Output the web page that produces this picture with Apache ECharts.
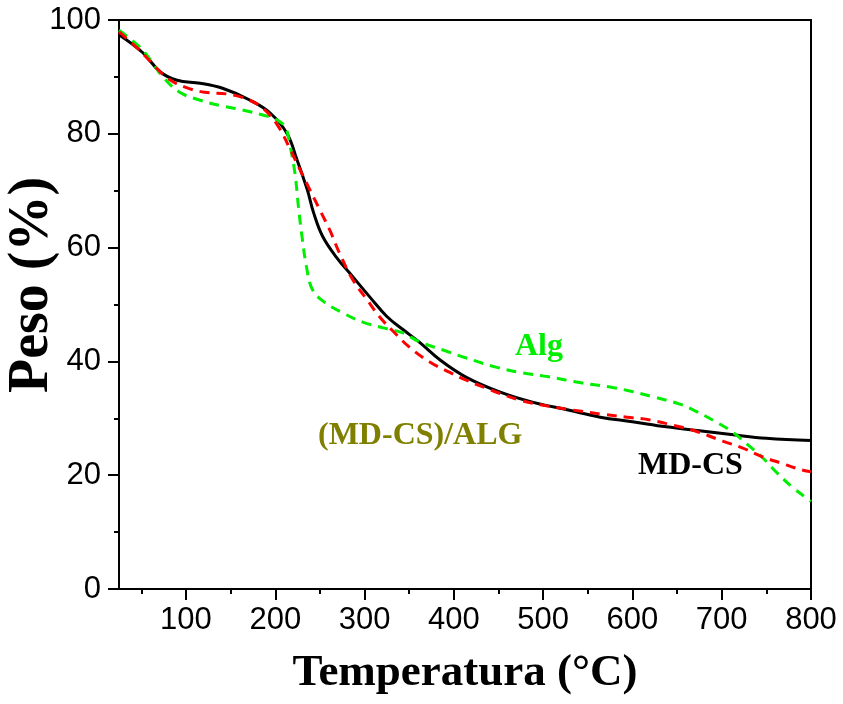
<!DOCTYPE html>
<html>
<head>
<meta charset="utf-8">
<script src="https://cdn.jsdelivr.net/npm/echarts@6/dist/echarts.min.js"></script>
<style>
  html, body { margin: 0; padding: 0; background: #fff; }
  #chart { width: 843px; height: 704px; }
</style>
</head>
<body>
<div id="chart"></div>
<script>
  // MD-CS (linea negra)
  var mdcsT = [25, 52, 71, 90, 116, 141, 172, 194, 213, 224, 236, 243, 253, 269, 284, 306, 325, 343, 362, 385, 414, 452, 489, 527, 564, 600, 638, 675, 713, 750, 800];
  var mdcsW = [97.4, 94.2, 90.9, 89.4, 88.9, 88.0, 85.9, 83.7, 80.1, 75.6, 70.1, 66.1, 62.0, 58.2, 55.4, 51.3, 47.9, 45.6, 43.3, 40.2, 37.2, 34.6, 32.8, 31.5, 30.2, 29.4, 28.5, 27.8, 27.1, 26.5, 26.1];
  // (MD-CS)/ALG (roja)
  var mixT = [25, 46, 62, 79, 99, 121, 146, 168, 186, 203, 216, 228, 239, 250, 261, 272, 287, 303, 317, 332, 351, 373, 395, 414, 436, 451, 474, 500, 527, 567, 594, 620, 645, 668, 701, 723, 746, 767, 788, 800];
  var mixW = [97.9, 95.0, 92.4, 89.8, 88.2, 87.3, 87.0, 86.1, 84.5, 81.4, 77.5, 73.6, 70.1, 66.6, 63.1, 59.0, 54.3, 50.8, 47.8, 45.3, 42.4, 39.9, 38.1, 36.7, 35.3, 34.4, 33.2, 32.3, 31.6, 30.7, 30.2, 29.7, 28.8, 27.9, 26.0, 24.8, 23.2, 22.1, 21.0, 20.6];
  // Alg (verde)
  var algT = [25, 48, 62, 74, 93, 116, 140, 163, 186, 200, 211, 216, 222, 226, 230, 235, 242, 256, 276, 298, 321, 343, 362, 388, 414, 447, 476, 506, 544, 575, 597, 625, 653, 673, 692, 712, 728, 745, 762, 779, 795, 800];
  var algW = [98.2, 95.3, 92.6, 90.0, 87.3, 85.9, 84.9, 84.2, 83.3, 82.6, 81.2, 78.3, 73.1, 67.1, 61.9, 56.6, 52.5, 50.3, 48.5, 46.9, 45.9, 45.0, 43.4, 42.0, 40.6, 39.0, 38.0, 37.3, 36.2, 35.5, 34.8, 33.7, 32.5, 31.1, 29.5, 27.6, 25.5, 23.2, 20.4, 17.9, 16.0, 15.4];

  var xMajor = [100, 200, 300, 400, 500, 600, 700, 800];
  var xMinor = [50, 150, 250, 350, 450, 550, 650, 750];

  function zip(a, b) {
    return a.map(function (v, i) { return [v, b[i]]; });
  }

  var chart = echarts.init(document.getElementById('chart'));
  var tickFont = { fontFamily: 'Liberation Sans', fontSize: 31, color: '#000' };
  var serifBold = '"Liberation Serif", "Times New Roman", serif';

  var option = {
    animation: false,
    grid: {
      left: 119, right: 32, top: 20, bottom: 115,
      show: true, borderColor: '#000', borderWidth: 2, backgroundColor: 'transparent'
    },
    xAxis: [{
      type: 'value', min: 25, max: 800,
      axisLine: { lineStyle: { color: '#000', width: 2 } },
      axisTick: { customValues: xMajor, length: 11, lineStyle: { color: '#000', width: 2 } },
      axisLabel: Object.assign({ customValues: xMajor, margin: 16 }, tickFont),
      splitLine: { show: false }
    }, {
      type: 'value', min: 25, max: 800, position: 'bottom',
      axisLine: { show: false },
      axisTick: { customValues: xMinor, length: 5, lineStyle: { color: '#000', width: 2 } },
      axisLabel: { show: false },
      splitLine: { show: false }
    }],
    yAxis: {
      type: 'value', min: 0, max: 100, interval: 20,
      axisLine: { show: true, lineStyle: { color: '#000', width: 2 } },
      axisTick: { show: true, length: 11, lineStyle: { color: '#000', width: 2 } },
      minorTick: { show: true, splitNumber: 2, length: 5, lineStyle: { color: '#000', width: 2 } },
      axisLabel: Object.assign({ margin: 18 }, tickFont),
      splitLine: { show: false }
    },
    series: [{
      name: 'MD-CS', type: 'line', data: zip(mdcsT, mdcsW),
      showSymbol: false, smooth: 0.4,
      lineStyle: { color: '#000', width: 3 }
    }, {
      name: 'Alg', type: 'line', data: zip(algT, algW),
      showSymbol: false, smooth: 0.4,
      lineStyle: { color: '#00ee00', width: 3, type: [10, 7] }
    }, {
      name: '(MD-CS)/ALG', type: 'line', data: zip(mixT, mixW),
      showSymbol: false, smooth: 0.4,
      lineStyle: { color: '#ff0000', width: 3, type: [10, 7] }
    }],
    graphic: [{
      type: 'text', x: 515, y: 347,
      style: { text: 'Alg', fill: '#00ee00', font: 'bold 32px ' + serifBold, textAlign: 'left', textVerticalAlign: 'middle' }
    }, {
      type: 'text', x: 318, y: 436,
      style: { text: '(MD-CS)/ALG', fill: '#808000', font: 'bold 32px ' + serifBold, textAlign: 'left', textVerticalAlign: 'middle' }
    }, {
      type: 'text', x: 638, y: 466,
      style: { text: 'MD-CS', fill: '#000', font: 'bold 32px ' + serifBold, textAlign: 'left', textVerticalAlign: 'middle' }
    }, {
      type: 'text', x: 465, y: 673,
      style: { text: 'Temperatura (°C)', fill: '#000', font: 'bold 45px ' + serifBold, textAlign: 'center', textVerticalAlign: 'middle' }
    }, {
      type: 'text', x: 33, y: 285, rotation: Math.PI / 2,
      style: { text: 'Peso (%)', fill: '#000', font: 'bold 56px ' + serifBold, textAlign: 'center', textVerticalAlign: 'middle' }
    }]
  };

  chart.setOption(option);
</script>
</body>
</html>
